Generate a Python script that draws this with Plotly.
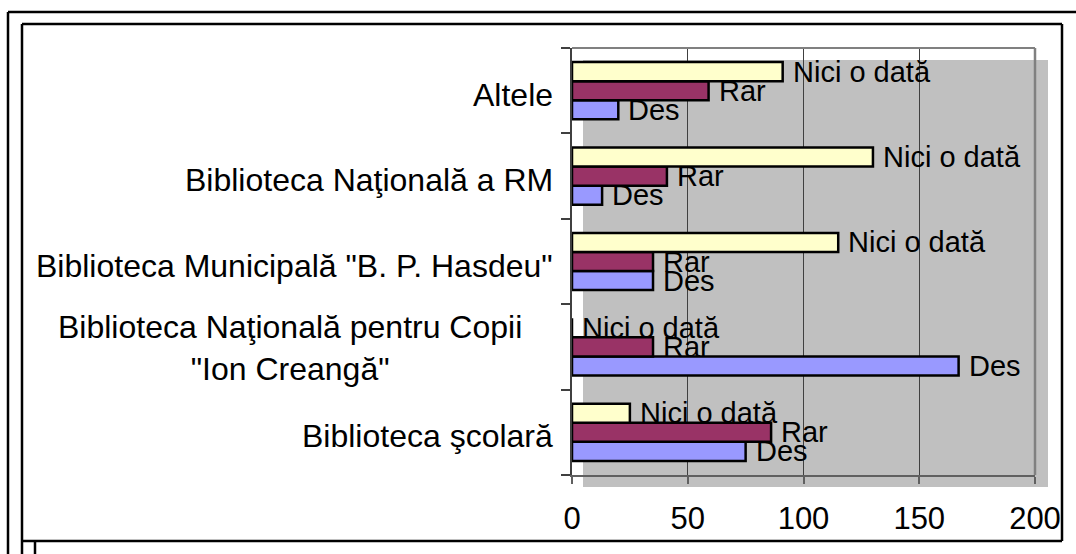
import plotly.graph_objects as go

# ---------------- data (bottom category first) ----------------
categories = [
    "Biblioteca şcolară",
    "Biblioteca Naţională pentru Copii \"Ion Creangă\"",
    "Biblioteca Municipală \"B. P. Hasdeu\"",
    "Biblioteca Naţională a RM",
    "Altele",
]
category_labels = [
    "Biblioteca şcolară",
    "Biblioteca Naţională pentru Copii<br>\"Ion Creangă\"",
    "Biblioteca Municipală \"B. P. Hasdeu\"",
    "Biblioteca Naţională a RM",
    "Altele",
]
series_names = ["Des", "Rar", "Nici o dată"]
des_values = [75, 167, 35, 13, 20]
rar_values = [86, 35, 35, 41, 59]
nici_values = [25, 0, 115, 130, 91]
x_ticks = [0, 50, 100, 150, 200]

series_values = [des_values, rar_values, nici_values]
series_colors = ["#9999FF", "#993366", "#FFFFCC"]

# ---------------- geometry (pixels) ----------------
W, H = 1076, 554
L, R, T, B = 572, 1035, 48, 475          # plot-area box
PW, PH = R - L, B - T
FONT = "Liberation Sans, Arial, sans-serif"
FS_CAT = 32
FS_TICK = 31
FS_BAR = 29


def px(x):
    return (x - L) / PW


def py(y):
    return (B - y) / PH


fig = go.Figure()
for name, vals, col in zip(series_names, series_values, series_colors):
    fig.add_trace(go.Bar(
        y=categories, x=vals, name=name, orientation="h",
        marker=dict(color=col, line=dict(color="#000000", width=2.5)),
        showlegend=False, hoverinfo="x+name",
    ))

shapes = []
# grey shadow of plot area
shapes.append(dict(type="rect", xref="paper", yref="paper",
                   x0=px(583), x1=px(1048), y0=py(487), y1=py(60),
                   fillcolor="#C0C0C0", line=dict(width=0), layer="below"))
# top and right plot-area border
shapes.append(dict(type="line", xref="paper", yref="paper",
                   x0=0, x1=1, y0=1, y1=1, line=dict(color="#808080", width=2)))
shapes.append(dict(type="line", xref="paper", yref="paper",
                   x0=1, x1=1, y0=0, y1=1, line=dict(color="#808080", width=2.5)))
# outer frames
frame = dict(color="#000000", width=2.5)
shapes += [
    dict(type="line", xref="paper", yref="paper", x0=px(8), x1=px(1076), y0=py(12), y1=py(12), line=frame),
    dict(type="line", xref="paper", yref="paper", x0=px(8), x1=px(8), y0=py(12), y1=py(554), line=frame),
    dict(type="line", xref="paper", yref="paper", x0=px(22), x1=px(1062), y0=py(24), y1=py(24), line=frame),
    dict(type="line", xref="paper", yref="paper", x0=px(22), x1=px(22), y0=py(24), y1=py(554), line=frame),
    dict(type="line", xref="paper", yref="paper", x0=px(1062), x1=px(1062), y0=py(24), y1=py(541), line=frame),
    dict(type="line", xref="paper", yref="paper", x0=px(22), x1=px(1062), y0=py(541), y1=py(541), line=frame),
    dict(type="line", xref="paper", yref="paper", x0=px(35), x1=px(35), y0=py(541), y1=py(554), line=frame),
]

annotations = []
# category labels (left)
for cat, lab in zip(categories, category_labels):
    if "<br>" in lab:
        annotations.append(dict(x=px(290), xref="paper", y=cat, yref="y", text=lab,
                                showarrow=False, xanchor="center", align="center",
                                yshift=-1,
                                font=dict(family=FONT, size=FS_CAT, color="#000")))
    else:
        annotations.append(dict(x=0, xref="paper", y=cat, yref="y", text=lab,
                                showarrow=False, xanchor="right", xshift=-17, yshift=-4,
                                font=dict(family=FONT, size=FS_CAT, color="#000")))

# bar value labels (series names at bar ends)
band = PH / len(categories)
bar_h = band * (1 - 0.33) / 3
shifts = [-bar_h, 0, bar_h]
for name, vals, sh in zip(series_names, series_values, shifts):
    for cat, v in zip(categories, vals):
        annotations.append(dict(x=v, xref="x", y=cat, yref="y", text=name,
                                showarrow=False, xanchor="left", xshift=8, yshift=sh,
                                font=dict(family=FONT, size=FS_BAR, color="#000")))

fig.update_layout(
    width=W, height=H,
    margin=dict(l=L, r=W - R, t=T, b=H - B, pad=0),
    paper_bgcolor="#FFFFFF", plot_bgcolor="rgba(0,0,0,0)",
    barmode="group", bargap=0.33, bargroupgap=0,
    font=dict(family=FONT, size=FS_TICK, color="#000"),
    shapes=shapes, annotations=annotations,
    xaxis=dict(range=[0, 200], tickvals=x_ticks, ticktext=[str(t) for t in x_ticks],
               showgrid=True, gridcolor="#404040", gridwidth=1, zeroline=False,
               showline=True, linecolor="#606060", linewidth=2,
               ticks="outside", ticklen=7, tickcolor="#606060", tickwidth=1.5,
               ticklabelstandoff=8, tickfont=dict(size=FS_TICK, family=FONT)),
    yaxis=dict(categoryorder="array", categoryarray=categories,
               showticklabels=False, showgrid=False, zeroline=False,
               showline=True, linecolor="#404040", linewidth=1.5,
               ticks="outside", ticklen=9, tickson="boundaries",
               tickcolor="#404040", tickwidth=1.5),
)

fig.write_html("out.html",
               config={"displayModeBar": False},
               post_script="document.body.style.margin='0';document.body.style.overflow='hidden';")
